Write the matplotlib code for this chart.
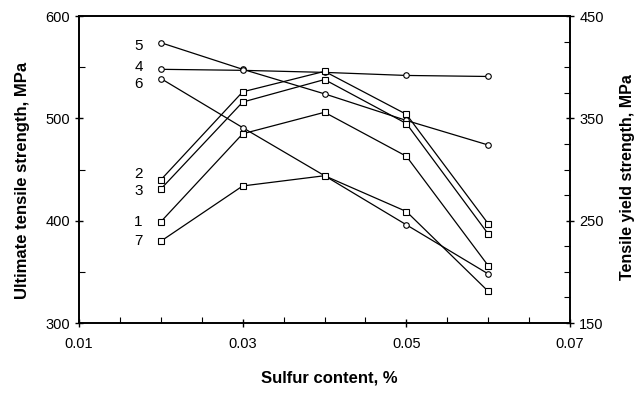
import matplotlib
matplotlib.use("Agg")
import matplotlib.pyplot as plt
from matplotlib.ticker import MultipleLocator

plt.rcParams['font.family'] = ['Liberation Sans', 'DejaVu Sans']

sulfur = [0.02, 0.03, 0.04, 0.05, 0.06]

# ultimate tensile strength (left axis), circles
uts_labels = ['5', '4', '6']
uts_5 = [574, 548, 524, 498, 474]
uts_4 = [548, 547, 545, 542, 541]
uts_6 = [539, 491, 444, 396, 348]

# tensile yield strength (right axis), squares
ys_labels = ['2', '3', '1', '7']
ys_2 = [290, 376, 396, 354, 247]
ys_3 = [281, 366, 388, 345, 237]
ys_1 = [249, 335, 356, 313, 206]
ys_7 = [230, 284, 294, 259, 181]

# label nudges (points) so the numbers don't collide
uts_nudge = [-2.4, 1.5, -3.6]
ys_nudge = [4.3, -1.4, 0, 0]

fig = plt.figure(figsize=(6.37, 3.93), dpi=100)
ax = fig.add_axes([0.124, 0.178, 0.771, 0.781])
ax2 = ax.twinx()

for vals, lab, dy in zip([uts_5, uts_4, uts_6], uts_labels, uts_nudge):
    ax.plot(sulfur, vals, color='black', lw=0.9, marker='o', ms=4,
            mfc='white', mec='black', mew=0.8)
    ax.annotate(lab, (0.0178, vals[0]), xytext=(0, dy), textcoords='offset points',
                fontsize=11, ha='right', va='center')

for vals, lab, dy in zip([ys_2, ys_3, ys_1, ys_7], ys_labels, ys_nudge):
    ax2.plot(sulfur, vals, color='black', lw=0.9, marker='s', ms=4,
             mfc='white', mec='black', mew=0.8)
    ax2.annotate(lab, (0.0178, vals[0]), xytext=(0, dy), textcoords='offset points',
                 fontsize=11, ha='right', va='center')

ax.set_xlim(0.01, 0.07)
ax.set_ylim(300, 600)
ax2.set_ylim(150, 450)

ax.set_xticks([0.01, 0.03, 0.05, 0.07])
ax.set_xticklabels(['0.01', '0.03', '0.05', '0.07'])
ax.xaxis.set_minor_locator(MultipleLocator(0.005))
ax.set_yticks([300, 400, 500, 600])
ax.yaxis.set_minor_locator(MultipleLocator(50))
ax2.set_yticks([150, 250, 350, 450])
ax2.yaxis.set_minor_locator(MultipleLocator(25))

for a in (ax, ax2):
    a.tick_params(which='major', direction='inout', length=6, width=1, labelsize=10.5)
    a.tick_params(which='minor', direction='in', length=4, width=0.8)
    for s in a.spines.values():
        s.set_linewidth(1.2)
ax.tick_params(axis='x', pad=7)

ax.set_xlabel('Sulfur content, %', fontsize=12, fontweight='bold')
ax.set_ylabel('Ultimate tensile strength, MPa', fontsize=12, fontweight='bold')
ax2.set_ylabel('Tensile yield strength, MPa', fontsize=11.5, fontweight='bold')
ax.xaxis.set_label_coords(0.509, -0.179)
ax.xaxis.label.set_va('center')
ax.yaxis.set_label_coords(-0.116, 0.466)
ax.yaxis.label.set_va('center')
ax2.yaxis.set_label_coords(1.116, 0.475)
ax2.yaxis.label.set_va('center')

fig.savefig('out.png', dpi=100)
